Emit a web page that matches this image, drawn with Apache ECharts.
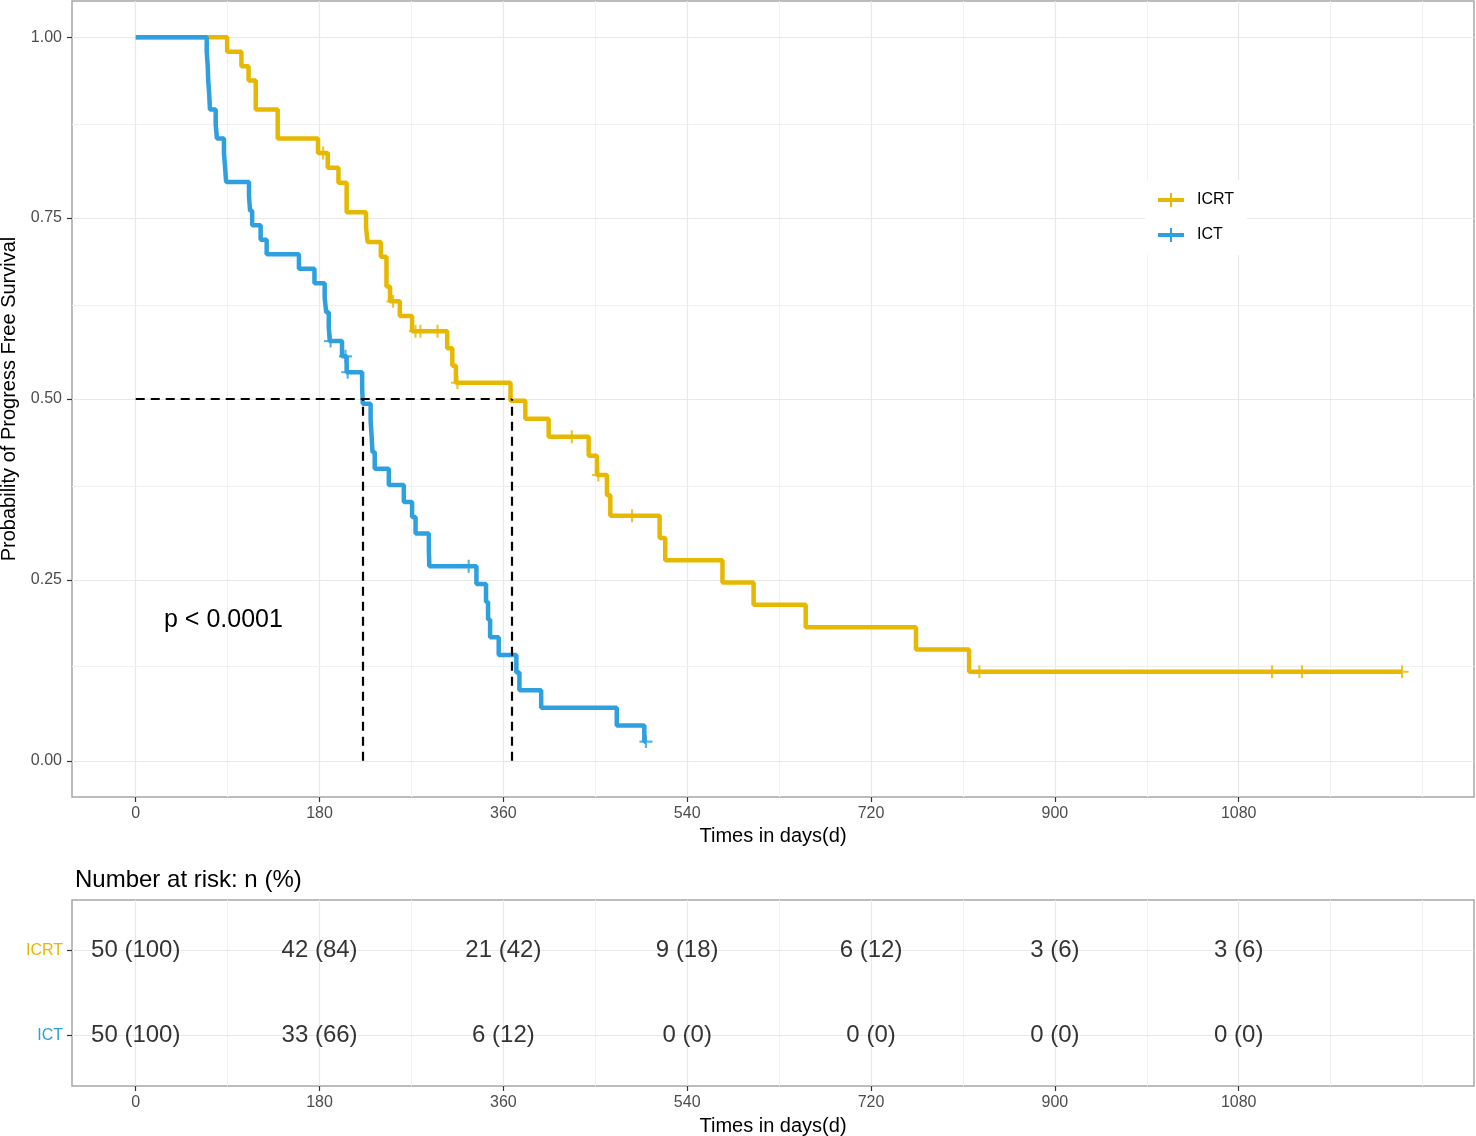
<!DOCTYPE html>
<html><head><meta charset="utf-8">
<script src="https://cdn.jsdelivr.net/npm/echarts@6.0.0/dist/echarts.min.js"></script>
<style>html,body{margin:0;padding:0;background:#fff}#c{width:1476px;height:1136px}</style>
</head><body><div id="c"></div>
<script>
// ---- data ----
const groups = ['ICRT', 'ICT'];
const colors = ['#E7B800', '#2E9FDF'];

const icrtTimes = [0, 89.5, 103.5, 110.5, 117.5, 139, 178.5, 188, 198.5, 206.5, 225.5, 227, 240, 245.5, 249, 258.6, 270.6, 305, 310, 313.5, 367, 381.5, 404.3, 443.5, 451.6, 461.4, 464.7, 513, 518.5, 574.5, 605, 656, 764, 816, 1240];
const icrtSurv  = [1.00, 0.98, 0.96, 0.94, 0.90, 0.86, 0.84, 0.8195, 0.799, 0.758, 0.7375, 0.717, 0.6966, 0.6556, 0.635, 0.6148, 0.5937, 0.570, 0.546, 0.5225, 0.4976, 0.4727, 0.4478, 0.4215, 0.395, 0.3669, 0.3387, 0.3079, 0.2771, 0.2463, 0.2155, 0.1847, 0.1539, 0.1231, 0.1231];
const icrtCensorTimes = [183.5, 252, 273.9, 278.8, 295.5, 315, 427, 453, 486, 826, 1112.7, 1142, 1240];
const icrtCensorSurv  = [0.84, 0.635, 0.5937, 0.5937, 0.5937, 0.5225, 0.4478, 0.395, 0.3387, 0.1231, 0.1231, 0.1231, 0.1231];

const ictTimes = [0, 69.5, 70.5, 71, 72, 72.7, 78.3, 79.5, 86.4, 87.5, 88.5, 110.9, 112, 114, 122.3, 128.2, 159.8, 175, 185, 186.5, 189, 190, 202, 206.5, 221.7, 222.3, 230, 231, 231.8, 234, 247.8, 262.5, 270.6, 274, 287, 287.5, 333.6, 343, 345, 347, 355.4, 372.7, 375.7, 397, 471, 498, 499.6];
const ictSurv  = [1.00, 0.98, 0.96, 0.94, 0.92, 0.90, 0.88, 0.86, 0.84, 0.82, 0.80, 0.78, 0.76, 0.74, 0.72, 0.70, 0.68, 0.66, 0.64, 0.62, 0.60, 0.58, 0.559, 0.537, 0.515, 0.4934, 0.470, 0.448, 0.4266, 0.4037, 0.381, 0.3577, 0.337, 0.314, 0.291, 0.269, 0.2445, 0.2196, 0.1952, 0.1708, 0.1464, 0.122, 0.0976, 0.0732, 0.0488, 0.0266, 0.0266];
const ictCensorTimes = [190.8, 205.4, 207.5, 326, 499.6];
const ictCensorSurv  = [0.58, 0.559, 0.537, 0.269, 0.0266];

const medianTimes = [222.5, 368];
const medianLevel = 0.5;

const xTicks = [0, 180, 360, 540, 720, 900, 1080];
const xMinor = [90, 270, 450, 630, 810, 990, 1170, 1260];
const yTicks = [0, 0.25, 0.5, 0.75, 1.0];
const yMinor = [0.125, 0.375, 0.625, 0.875];

const riskTimes = [0, 180, 360, 540, 720, 900, 1080];
const riskICRT = [50, 42, 21, 9, 6, 3, 3];
const pctICRT  = [100, 84, 42, 18, 12, 6, 6];
const riskICT  = [50, 33, 6, 0, 0, 0, 0];
const pctICT   = [100, 66, 12, 0, 0, 0, 0];

const pText = 'p < 0.0001';

// ---- chart ----
const FONT = '"Liberation Sans", Arial, Helvetica, sans-serif';
const zip = (a, b) => a.map((v, i) => [v, b[i]]);
const plusSym = 'path://M0,5H12V7H0Z M5,0H7V12H5Z';
const legendSym = 'path://M0,5H26V9H0Z M12,0H14V14H12Z';
const majorStyle = {color: '#e8e8e8', width: 1.2, type: 'solid'};
const minorStyle = {color: '#f0f0f0', width: 1, type: 'solid'};

function gridLines(yMaj, yMin) {
  const d = [];
  xMinor.forEach(v => d.push({xAxis: v, lineStyle: minorStyle}));
  xTicks.forEach(v => d.push({xAxis: v, lineStyle: majorStyle}));
  (yMin || []).forEach(v => d.push({yAxis: v, lineStyle: minorStyle}));
  (yMaj || []).forEach(v => d.push({yAxis: v, lineStyle: majorStyle}));
  return {silent: true, z: 0, symbol: ['none', 'none'], label: {show: false}, emphasis: {disabled: true}, animation: false, data: d};
}

const xAxisCommon = {
  type: 'value', min: -62.4, max: 1310.4,
  splitLine: {show: false},
  axisLine: {show: false, onZero: false},
  axisTick: {show: true, customValues: xTicks, length: 5, lineStyle: {color: '#333333', width: 1.2}},
  axisLabel: {customValues: xTicks, color: '#4d4d4d', fontSize: 16, fontFamily: FONT, margin: 9, formatter: v => String(v)},
  name: 'Times in days(d)', nameLocation: 'middle', nameGap: 28,
  nameTextStyle: {fontSize: 20, color: '#000', fontFamily: FONT}
};

const riskRows = [];
riskTimes.forEach((t, i) => {
  riskRows.push([t, 2, riskICRT[i] + ' (' + pctICRT[i] + ')']);
  riskRows.push([t, 1, riskICT[i] + ' (' + pctICT[i] + ')']);
});

const option = {
  animation: false,
  backgroundColor: '#ffffff',
  textStyle: {fontFamily: FONT},
  title: [
    {text: 'Number at risk: n (%)', left: 70, top: 863, textStyle: {fontSize: 24, fontWeight: 'normal', color: '#000', fontFamily: FONT}},
    {text: pText, left: 159, top: 603, textStyle: {fontSize: 25, fontWeight: 'normal', color: '#000', fontFamily: FONT}}
  ],
  legend: {
    orient: 'vertical', left: 1145, top: 180, padding: [12, 13, 12, 13],
    backgroundColor: '#ffffff', itemWidth: 26, itemHeight: 14, itemGap: 19,
    textStyle: {fontSize: 16, color: '#000', fontFamily: FONT, padding: [0, 0, 0, 8]},
    data: [
      {name: 'ICRT', icon: legendSym, itemStyle: {color: colors[0]}},
      {name: 'ICT', icon: legendSym, itemStyle: {color: colors[1]}}
    ]
  },
  grid: [
    {left: 72, top: 1, right: 2, height: 796, show: true, borderColor: '#a6a6a6', borderWidth: 1.5, backgroundColor: 'transparent', containLabel: false, outerBoundsMode: 'none'},
    {left: 72, top: 900, right: 2, height: 186, show: true, borderColor: '#a6a6a6', borderWidth: 1.5, backgroundColor: 'transparent', containLabel: false, outerBoundsMode: 'none'}
  ],
  xAxis: [
    Object.assign({gridIndex: 0}, xAxisCommon),
    Object.assign({gridIndex: 1}, xAxisCommon, {nameGap: 30})
  ],
  yAxis: [
    {
      gridIndex: 0, type: 'value', min: -0.05, max: 1.05,
      splitLine: {show: false}, axisLine: {show: false, onZero: false},
      axisTick: {show: true, customValues: yTicks, length: 5, lineStyle: {color: '#333333', width: 1.2}},
      axisLabel: {customValues: yTicks, color: '#4d4d4d', fontSize: 16, fontFamily: FONT, margin: 10, formatter: v => v.toFixed(2)},
      name: 'Probability of Progress Free Survival', nameLocation: 'middle', nameGap: 52,
      nameTextStyle: {fontSize: 20, color: '#000', fontFamily: FONT}
    },
    {
      gridIndex: 1, type: 'value', min: 0.4, max: 2.6,
      splitLine: {show: false}, axisLine: {show: false, onZero: false},
      axisTick: {show: true, customValues: [1, 2], length: 5, lineStyle: {color: '#333333', width: 1.2}},
      axisLabel: {customValues: [1, 2], fontSize: 16, fontFamily: FONT, margin: 9,
        formatter: v => v === 2 ? '{a|' + groups[0] + '}' : '{b|' + groups[1] + '}',
        rich: {a: {color: colors[0], fontSize: 16, fontFamily: FONT}, b: {color: colors[1], fontSize: 16, fontFamily: FONT}}}
    }
  ],
  series: [
    {type: 'line', name: 'grid-top', xAxisIndex: 0, yAxisIndex: 0, data: [], z: 0, silent: true,
      markLine: gridLines(yTicks, yMinor)},
    {type: 'line', name: 'grid-risk', xAxisIndex: 1, yAxisIndex: 1, data: [], z: 0, silent: true,
      markLine: gridLines([1, 2], [])},
    {type: 'line', name: 'ICRT', xAxisIndex: 0, yAxisIndex: 0, step: 'end', showSymbol: false, symbol: 'none',
      data: zip(icrtTimes, icrtSurv), lineStyle: {color: colors[0], width: 4.5}, itemStyle: {color: colors[0]}, z: 3},
    {type: 'line', name: 'ICT', xAxisIndex: 0, yAxisIndex: 0, step: 'end', showSymbol: false, symbol: 'none',
      data: zip(ictTimes, ictSurv), lineStyle: {color: colors[1], width: 4.5}, itemStyle: {color: colors[1]}, z: 3},
    {type: 'scatter', name: 'ICRT censor', xAxisIndex: 0, yAxisIndex: 0, symbol: plusSym, symbolSize: 13,
      data: zip(icrtCensorTimes, icrtCensorSurv), itemStyle: {color: colors[0]}, z: 4},
    {type: 'scatter', name: 'ICT censor', xAxisIndex: 0, yAxisIndex: 0, symbol: plusSym, symbolSize: 13,
      data: zip(ictCensorTimes, ictCensorSurv), itemStyle: {color: colors[1]}, z: 4},
    {type: 'line', name: 'median', xAxisIndex: 0, yAxisIndex: 0, data: [], z: 5, silent: true,
      markLine: {silent: true, z: 6, symbol: ['none', 'none'], label: {show: false}, emphasis: {disabled: true},
        lineStyle: {color: '#000', width: 2.2, type: [9, 6]},
        data: [
          [{coord: [0, medianLevel]}, {coord: [medianTimes[1], medianLevel]}],
          [{coord: [medianTimes[0], 0]}, {coord: [medianTimes[0], medianLevel]}],
          [{coord: [medianTimes[1], 0]}, {coord: [medianTimes[1], medianLevel]}]
        ]}},
    {type: 'scatter', name: 'risk', xAxisIndex: 1, yAxisIndex: 1, symbolSize: 1, data: riskRows,
      itemStyle: {color: 'rgba(0,0,0,0)'}, silent: true, z: 6,
      label: {show: true, position: 'inside', formatter: p => p.value[2], fontSize: 24, color: '#000',
        textBorderWidth: 0, fontFamily: FONT}}
  ]
};

const chart = echarts.init(document.getElementById('c'), null, {renderer: 'canvas'});
chart.setOption(option);
</script>
</body></html>
